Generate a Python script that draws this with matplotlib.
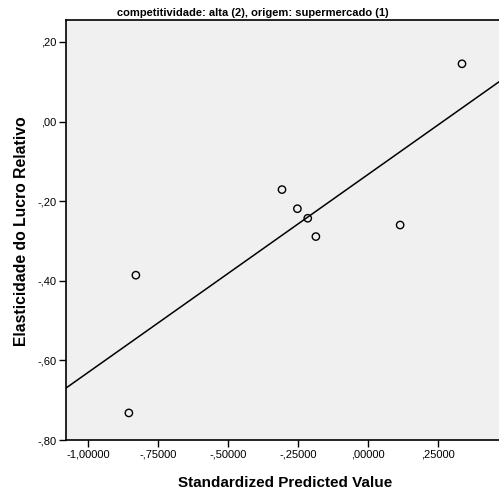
import matplotlib
matplotlib.use('Agg')
import matplotlib.pyplot as plt
import numpy as np

plt.rcParams['font.family'] = ['Liberation Sans', 'DejaVu Sans']

# valores
pred_std = [0.336, -0.307, -0.252, -0.215, -0.186, 0.115, -0.829, -0.854]
elasticidade = [0.145, -0.171, -0.219, -0.243, -0.289, -0.260, -0.386, -0.732]

x_ticks = [-1.0, -0.75, -0.5, -0.25, 0.0, 0.25]
x_labels = ['-1,00000', '-,75000', '-,50000', '-,25000', ',00000', ',25000']
y_ticks = [-0.8, -0.6, -0.4, -0.2, 0.0, 0.2]
y_labels = ['-,80', '-,60', '-,40', '-,20', ',00', ',20']

xlim = (-1.0786, 0.486)
ylim = (-0.8, 0.255)

fig = plt.figure(figsize=(4.99, 4.90), dpi=100)
ax = fig.add_axes([66 / 499, 1 - 440 / 490, 1.01 - 66 / 499, 420 / 490])
ax.set_facecolor('#f0f0f0')

# linha de ajuste
slope, intercept = np.polyfit(pred_std, elasticidade, 1)
xs = np.array(xlim)
ax.plot(xs, slope * xs + intercept, color='black', linewidth=1.1)

ax.scatter(pred_std, elasticidade, s=28, facecolors='none', edgecolors='black',
           linewidths=1.0, zorder=3)

ax.set_xlim(*xlim)
ax.set_ylim(*ylim)
ax.set_xticks(x_ticks)
ax.set_xticklabels(x_labels)
ax.set_yticks(y_ticks)
ax.set_yticklabels(y_labels)
ax.tick_params(direction='out', length=5, width=1, labelsize=8, pad=2)

for side in ['left', 'bottom', 'top', 'right']:
    ax.spines[side].set_linewidth(1.2)

ax.set_xlabel('Standardized Predicted Value', fontsize=11, fontweight='bold', labelpad=12)
fig.text(21.5 / 499, 1 - 231 / 490, 'Elasticidade do Lucro Relativo', rotation=90,
         ha='center', va='center', fontsize=11.3, fontweight='bold')
fig.text(253 / 499, 1 - 13 / 490, 'competitividade: alta (2), origem: supermercado (1)',
         ha='center', va='center', fontsize=8, fontweight='bold')

fig.savefig('out.png', dpi=100)
